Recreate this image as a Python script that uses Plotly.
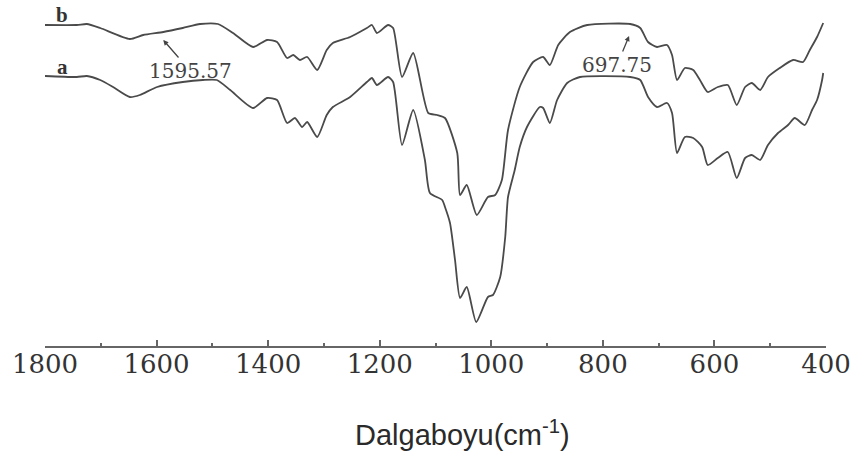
import plotly.graph_objects as go

# Wavenumber (cm-1) and relative transmittance (a.u.)
wn_b = [1800, 1743, 1725, 1701, 1648, 1624, 1588, 1553, 1522, 1490, 1463, 1427, 1402, 1384,
        1366, 1355, 1343, 1330, 1312, 1295, 1284, 1253, 1223, 1214, 1205, 1185, 1176, 1160,
        1140, 1113, 1097, 1083, 1061, 1056, 1044, 1026, 1006, 993, 981, 970, 949, 925, 907,
        895, 880, 859, 828, 751, 733, 719, 703, 685, 676, 667, 653, 638, 626, 612, 594, 576,
        560, 545, 533, 518, 504, 483, 459, 441, 429, 416, 405]
tr_b = [321, 321, 322, 318, 307, 311, 314, 318, 322, 322, 313, 299, 306, 304,
        288, 291, 286, 289, 276, 296, 303, 309, 318, 321, 313, 321, 318, 269,
        293, 233, 231, 228, 193, 151, 161, 131, 149, 151, 166, 216, 259, 284, 289,
        281, 301, 314, 321, 322, 318, 304, 299, 301, 291, 266, 278, 276, 266, 254, 259, 261,
        241, 259, 263, 256, 269, 278, 286, 284, 296, 309, 323]

wn_a = [1800, 1743, 1725, 1701, 1678, 1648, 1630, 1599, 1553, 1517, 1492, 1468, 1427, 1402,
        1384, 1366, 1352, 1339, 1330, 1312, 1295, 1284, 1253, 1223, 1214, 1205, 1185, 1176,
        1160, 1140, 1119, 1110, 1088, 1083, 1074, 1065, 1056, 1044, 1027, 1006, 997, 984,
        975, 970, 958, 949, 936, 913, 907, 895, 882, 864, 841, 751, 733, 719, 703, 685, 676,
        667, 653, 638, 622, 612, 594, 576, 560, 545, 533, 518, 504, 486, 468, 456, 438, 425,
        416, 407, 405]
tr_a = [270, 269, 270, 266, 259, 249, 251, 259, 264, 266, 266, 256, 238, 248,
        246, 223, 228, 219, 224, 209, 231, 239, 249, 264, 268, 261, 269, 264,
        201, 236, 186, 153, 146, 139, 123, 86, 48, 59, 24, 49, 51, 69,
        109, 149, 176, 199, 219, 239, 238, 223, 246, 263, 269, 269, 266, 249, 239, 243, 233,
        193, 209, 208, 199, 181, 188, 194, 168, 188, 191, 186, 201, 213, 221, 228, 221, 236,
        246, 266, 273]

x_ticks = [1800, 1600, 1400, 1200, 1000, 800, 600, 400]

line_col = "#4a4a4a"
serif = "DejaVu Serif"

fig = go.Figure()
fig.add_trace(go.Scatter(x=wn_b, y=tr_b, mode="lines", name="b",
                         line=dict(color=line_col, width=1.8, shape="spline", smoothing=0.6)))
fig.add_trace(go.Scatter(x=wn_a, y=tr_a, mode="lines", name="a",
                         line=dict(color=line_col, width=1.8, shape="spline", smoothing=0.6)))

# curve labels
fig.add_annotation(x=1770, y=331, text="<b>b</b>", showarrow=False,
                   font=dict(family="Liberation Serif", size=21, color="#333"))
fig.add_annotation(x=1768, y=279, text="<b>a</b>", showarrow=False,
                   font=dict(family="Liberation Serif", size=21, color="#333"))

# peak annotations
fig.add_annotation(x=1588, y=306, text="1595.57", showarrow=True, ax=27, ay=31,
                   arrowhead=2, arrowsize=0.8, arrowwidth=1.3, arrowcolor="#444",
                   font=dict(family=serif, size=20, color="#444"))
fig.add_annotation(x=753, y=310, text="697.75", showarrow=True, ax=-12, ay=29,
                   arrowhead=2, arrowsize=0.8, arrowwidth=1.3, arrowcolor="#444",
                   font=dict(family=serif, size=20, color="#444"))

# axis title
fig.add_annotation(x=0.535, y=-0.25, xref="paper", yref="paper", yanchor="middle",
                   text="Dalgaboyu(cm<sup>-1</sup>)", showarrow=False,
                   font=dict(family="Liberation Sans", size=29, color="#2a2a2a"))

fig.update_layout(
    width=855, height=455,
    margin=dict(l=45, r=29, t=0, b=109),
    paper_bgcolor="white", plot_bgcolor="white",
    showlegend=False,
    xaxis=dict(range=[1800, 400], tickvals=x_ticks, ticktext=[str(t) for t in x_ticks],
               showgrid=False, zeroline=False, showline=True, linecolor="#666", linewidth=2,
               ticks="inside", ticklen=6, tickwidth=1.5, tickcolor="#666",
               minor=dict(dtick=100, tick0=0, ticks="inside", ticklen=3, tickwidth=1.5, tickcolor="#666"),
               ticklabelstandoff=-6,
               tickfont=dict(family=serif, size=26, color="#333")),
    yaxis=dict(range=[0, 346], visible=False),
)

fig.write_html("out.html")
